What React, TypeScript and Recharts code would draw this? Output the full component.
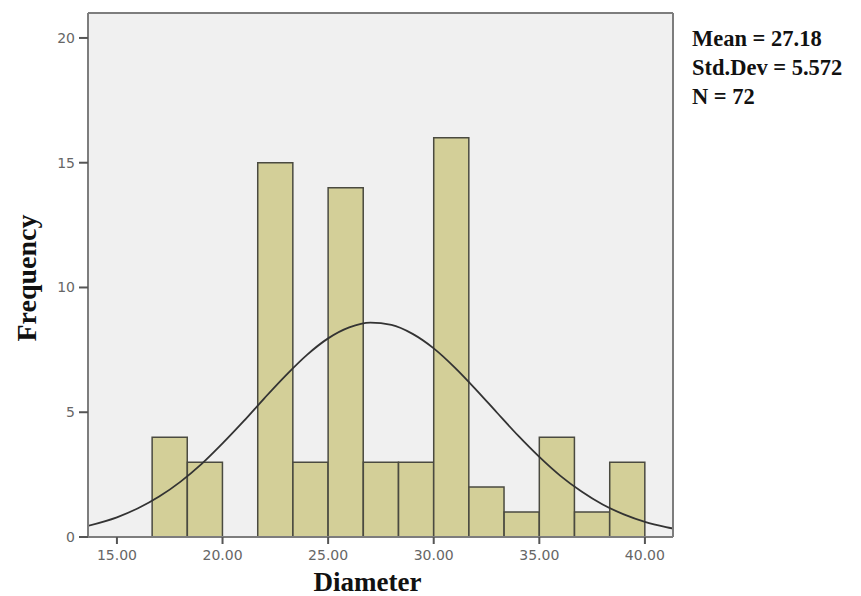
import { ComposedChart, Bar, Line, XAxis, YAxis, CartesianGrid, Label, ReferenceLine } from "recharts";

// histogram bins (width 5/3), centre of each bin
const binCenters = [17.5, 19.167, 20.833, 22.5, 24.167, 25.833, 27.5, 29.167, 30.833, 32.5, 34.167, 35.833, 37.5, 39.167];
const binCounts = [4, 3, 0, 15, 3, 14, 3, 3, 16, 2, 1, 4, 1, 3];

// normal curve
const curveX = [13.6, 15, 16, 17, 18, 19, 20, 21, 22, 23, 24, 25, 26, 27, 28, 29, 30, 31, 32, 33, 34, 35, 36, 37, 38, 39, 40, 41, 41.4];
const curveY = [0.44, 0.79, 1.15, 1.62, 2.21, 2.92, 3.75, 4.64, 5.58, 6.48, 7.3, 7.96, 8.4, 8.59, 8.5, 8.14, 7.56, 6.79, 5.91, 4.98, 4.06, 3.21, 2.45, 1.82, 1.3, 0.91, 0.61, 0.4, 0.33];

const xTicks = [15, 20, 25, 30, 35, 40];
const yTicks = [0, 5, 10, 15, 20];
const statLines = ["Mean = 27.18", "Std.Dev = 5.572", "N = 72"];

const X_DOMAIN: [number, number] = [13.63, 41.33];
const Y_DOMAIN: [number, number] = [0, 21];
const FRAME = "#7d7d7d";
const SERIF = "'Liberation Serif', 'Times New Roman', serif";
const tickStyle = { fontSize: 14, fill: "#666", fontFamily: "'DejaVu Sans', sans-serif" };

const barData = binCenters.map((x, i) => ({ x, count: binCounts[i] }));
const curveData = curveX.map((x, i) => ({ x, y: curveY[i] }));

export default function App() {
  return (
    <div style={{ position: "absolute", left: 0, top: 0, width: 861, height: 596, background: "#fff" }}>
      <ComposedChart
        width={861}
        height={596}
        data={barData}
        margin={{ top: 13, right: 188, bottom: 0, left: 0 }}
        barCategoryGap={0}
        barGap={0}
      >
        <CartesianGrid fill="#f0f0f0" horizontal={false} vertical={false} />
        <XAxis
          dataKey="x"
          type="number"
          domain={X_DOMAIN}
          allowDataOverflow
          ticks={xTicks}
          tickFormatter={(v: number) => v.toFixed(2)}
          tick={tickStyle}
          tickSize={7}
          tickMargin={6}
          height={59}
          axisLine={{ stroke: FRAME, strokeWidth: 2 }}
          tickLine={{ stroke: "#555", strokeWidth: 2 }}
        >
          <Label
            content={({ viewBox }: any) => (
              <text
                x={viewBox.x + viewBox.width / 2 - 13}
                y={viewBox.y + 54}
                textAnchor="middle"
                fontFamily={SERIF}
                fontWeight="bold"
                fontSize={27}
                fill="#111"
              >
                Diameter
              </text>
            )}
          />
        </XAxis>
        {/* separate hidden axis for the curve so its points don't shrink the bars */}
        <XAxis xAxisId="curve" dataKey="x" type="number" domain={X_DOMAIN} allowDataOverflow hide />
        <YAxis
          type="number"
          domain={Y_DOMAIN}
          allowDataOverflow
          ticks={yTicks}
          tick={tickStyle}
          tickSize={9}
          tickMargin={4}
          width={88}
          axisLine={{ stroke: FRAME, strokeWidth: 2 }}
          tickLine={{ stroke: "#555", strokeWidth: 2 }}
        >
          <Label
            content={({ viewBox }: any) => {
              const cx = viewBox.x + 36;
              const cy = viewBox.y + viewBox.height / 2 + 3;
              return (
                <text
                  x={cx}
                  y={cy}
                  transform={`rotate(-90 ${cx} ${cy})`}
                  textAnchor="middle"
                  fontFamily={SERIF}
                  fontWeight="bold"
                  fontSize={28}
                  fill="#111"
                >
                  Frequency
                </text>
              );
            }}
          />
        </YAxis>
        <Bar dataKey="count" fill="#d3cf98" stroke="#4a4a40" strokeWidth={1.5} barSize={35.1} isAnimationActive={false} />
        <Line xAxisId="curve" data={curveData} dataKey="y" type="monotone" stroke="#333" strokeWidth={1.8} dot={false} isAnimationActive={false} />
        {/* top and right edges of the plot frame */}
        <ReferenceLine y={Y_DOMAIN[1]} stroke={FRAME} strokeWidth={2} />
        <ReferenceLine x={X_DOMAIN[1]} stroke={FRAME} strokeWidth={2} />
      </ComposedChart>
      <div style={{ position: "absolute", left: 692, top: 24, fontFamily: SERIF, fontWeight: "bold", fontSize: 22.5, lineHeight: "29px", color: "#111" }}>
        {statLines.map((s) => (
          <div key={s}>{s}</div>
        ))}
      </div>
    </div>
  );
}
